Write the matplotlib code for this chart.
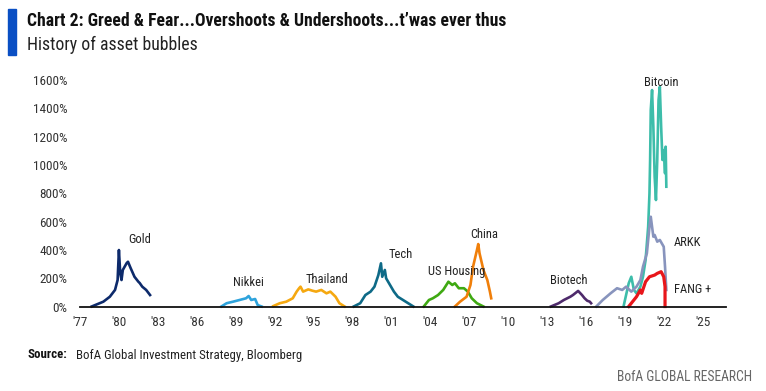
import matplotlib
matplotlib.use("Agg")
import matplotlib.pyplot as plt
from matplotlib import font_manager
from matplotlib.patches import Rectangle

# the original uses a condensed face; use one if installed
avail = {f.name for f in font_manager.fontManager.ttflist}
cond = [n for n in ["Roboto Condensed", "Open Sans Condensed", "Liberation Sans Narrow"]
        if n in avail]
FONT = cond[0] if cond else "Roboto"
plt.rcParams["font.family"] = [FONT, "DejaVu Sans"]

# ---- data (year, % gain) ----
gold_x = [1977.9, 1978.8, 1979.3, 1979.7, 1979.9, 1980.0, 1980.1, 1980.2, 1980.3, 1980.6,
          1980.7, 1980.9, 1981.2, 1981.5, 1981.6, 1981.8, 1982.1, 1982.4]
gold_y = [0, 34, 69, 117, 187, 399, 237, 187, 258, 307, 316, 272, 210, 175, 166, 140, 117, 81]

nikkei_x = [1987.9, 1988.3, 1988.8, 1989.3, 1989.8, 1990.0, 1990.2, 1990.5, 1990.7, 1991.0]
nikkei_y = [0, 23, 34, 46, 58, 74, 46, 53, 10, 0]

thai_x = [1991.9, 1992.4, 1992.9, 1993.4, 1993.7, 1993.9, 1994.0, 1994.2, 1994.6, 1994.9,
          1995.2, 1995.6, 1996.0, 1996.3, 1996.7, 1997.0, 1997.4]
thai_y = [3, 23, 34, 58, 105, 130, 140, 105, 121, 112, 105, 117, 93, 105, 69, 23, 0]

tech_x = [1998.1, 1998.6, 1999.0, 1999.4, 1999.7, 2000.0, 2000.2, 2000.3, 2000.5, 2000.6,
          2000.9, 2001.2, 2001.5, 2001.9, 2002.3, 2002.7]
tech_y = [0, 23, 81, 105, 140, 222, 305, 210, 258, 199, 152, 105, 69, 46, 23, 0]

house_x = [2003.5, 2003.9, 2004.2, 2004.6, 2005.0, 2005.4, 2005.7, 2005.9, 2006.2, 2006.6,
           2006.9, 2007.2, 2007.6, 2008.1]
house_y = [0, 46, 58, 81, 117, 175, 152, 164, 129, 129, 105, 58, 23, 0]

china_x = [2005.9, 2006.3, 2006.8, 2007.1, 2007.3, 2007.6, 2007.7, 2007.8, 2008.1, 2008.4,
           2008.6, 2008.7]
china_y = [0, 34, 69, 152, 281, 399, 441, 376, 258, 187, 105, 58]

biotech_x = [2013.3, 2013.9, 2014.3, 2014.8, 2015.0, 2015.4, 2015.7, 2015.9, 2016.1, 2016.3, 2016.4]
biotech_y = [0, 23, 46, 69, 81, 110, 81, 58, 41, 34, 23]

arkk_x = [2016.8, 2017.3, 2017.9, 2018.4, 2018.8, 2019.1, 2019.5, 2019.9, 2020.2, 2020.4,
          2020.7, 2020.9, 2021.0, 2021.2, 2021.3, 2021.5, 2021.7, 2022.0, 2022.1, 2022.2]
arkk_y = [0, 46, 93, 129, 117, 140, 105, 140, 187, 281, 376, 564, 634, 493, 505, 458, 470,
          422, 281, 117]

fang_x = [2019.3, 2019.7, 2019.9, 2020.2, 2020.3, 2020.6, 2020.9, 2021.3, 2021.5, 2021.8,
          2022.0, 2022.1, 2022.1]
fang_y = [0, 46, 69, 117, 93, 175, 210, 222, 234, 246, 210, 140, 0]

btc_x = [2018.9, 2019.3, 2019.5, 2019.7, 2019.9, 2020.2, 2020.4, 2020.6, 2020.8, 2020.9,
         2020.95, 2021.0, 2021.1, 2021.2, 2021.3, 2021.4, 2021.5, 2021.6, 2021.7, 2021.8,
         2021.9, 2022.0, 2022.1, 2022.15, 2022.2]
btc_y = [0, 164, 210, 117, 93, 140, 210, 328, 564, 799, 1035, 1388, 1529, 1270, 917, 752,
         1035, 1458, 1552, 1270, 1035, 1105, 941, 1129, 846]

names = ["Gold", "Nikkei", "Thailand", "Tech", "US Housing", "China", "Biotech",
         "Bitcoin", "ARKK", "FANG +"]
colors = ["#0d2a6b", "#2ea3dc", "#f5a810", "#0e6a87", "#3fa912", "#f07f0a", "#4e2a6b",
          "#3dbdaa", "#8894bd", "#e8161b"]
series_x = [gold_x, nikkei_x, thai_x, tech_x, house_x, china_x, biotech_x, btc_x, arkk_x, fang_x]
series_y = [gold_y, nikkei_y, thai_y, tech_y, house_y, china_y, biotech_y, btc_y, arkk_y, fang_y]

# label positions (year, %)
label_x = [1981.6, 1990.0, 1996.0, 2001.7, 2006.0, 2008.2, 2014.7, 2021.8, 2023.8, 2024.2]
label_y = [470, 168, 192, 364, 246, 512, 182, 1580, 451, 121]

xticks = list(range(1977, 2026, 3))
xlabels = ["'%02d" % (t % 100) for t in xticks]
yticks = list(range(0, 1601, 200))

fig = plt.figure(figsize=(7.66, 3.91), dpi=100)
W, H = 766, 391
ax = fig.add_axes([80 / W, (H - 306.5) / H, (726 - 80) / W, (306.5 - 80) / H])

for i in range(len(names)):
    lw = 2.3 if names[i] == "FANG +" else 1.9
    ax.plot(series_x[i], series_y[i], color=colors[i], lw=lw, clip_on=False,
            solid_joinstyle="round")
    ax.text(label_x[i], label_y[i], names[i], ha="center", va="center",
            fontsize=9, color="#222222")

ax.set_xlim(1977, 2026.8)
ax.set_ylim(0, 1600)
ax.set_xticks(xticks)
ax.set_xticklabels(xlabels)
ax.set_yticks(yticks)
ax.set_yticklabels(["%d%%" % v for v in yticks])
ax.tick_params(length=0, labelsize=9.5, colors="#333333")
ax.tick_params(axis="y", pad=9)
ax.tick_params(axis="x", pad=7)
for s in ["top", "right", "left"]:
    ax.spines[s].set_visible(False)
ax.spines["bottom"].set_color("#111111")
ax.spines["bottom"].set_linewidth(1.3)

# header
fig.patches.append(Rectangle((8 / W, 1 - 55 / H), 8 / W, 46 / H, transform=fig.transFigure,
                             color="#0a4fc4"))
fig.text(27 / W, 1 - 21 / H, "Chart 2: Greed & Fear...Overshoots & Undershoots...t\u2019was ever thus",
         fontsize=12.7, fontweight="bold", va="center", ha="left", color="#111111")
fig.text(27 / W, 1 - 45 / H, "History of asset bubbles", fontsize=12.8, va="center",
         ha="left", color="#222222")

# footer
fig.text(27 / W, 1 - 355 / H, "Source:", fontsize=9.3, fontweight="bold", va="center",
         color="#111111")
fig.text(76 / W, 1 - 355 / H, "BofA Global Investment Strategy, Bloomberg", fontsize=9.3,
         va="center", color="#222222")
fig.text(752 / W, 1 - 377 / H, "BofA GLOBAL RESEARCH", fontsize=9.8, va="center", ha="right",
         color="#666666")

fig.savefig("out.png", dpi=100)
